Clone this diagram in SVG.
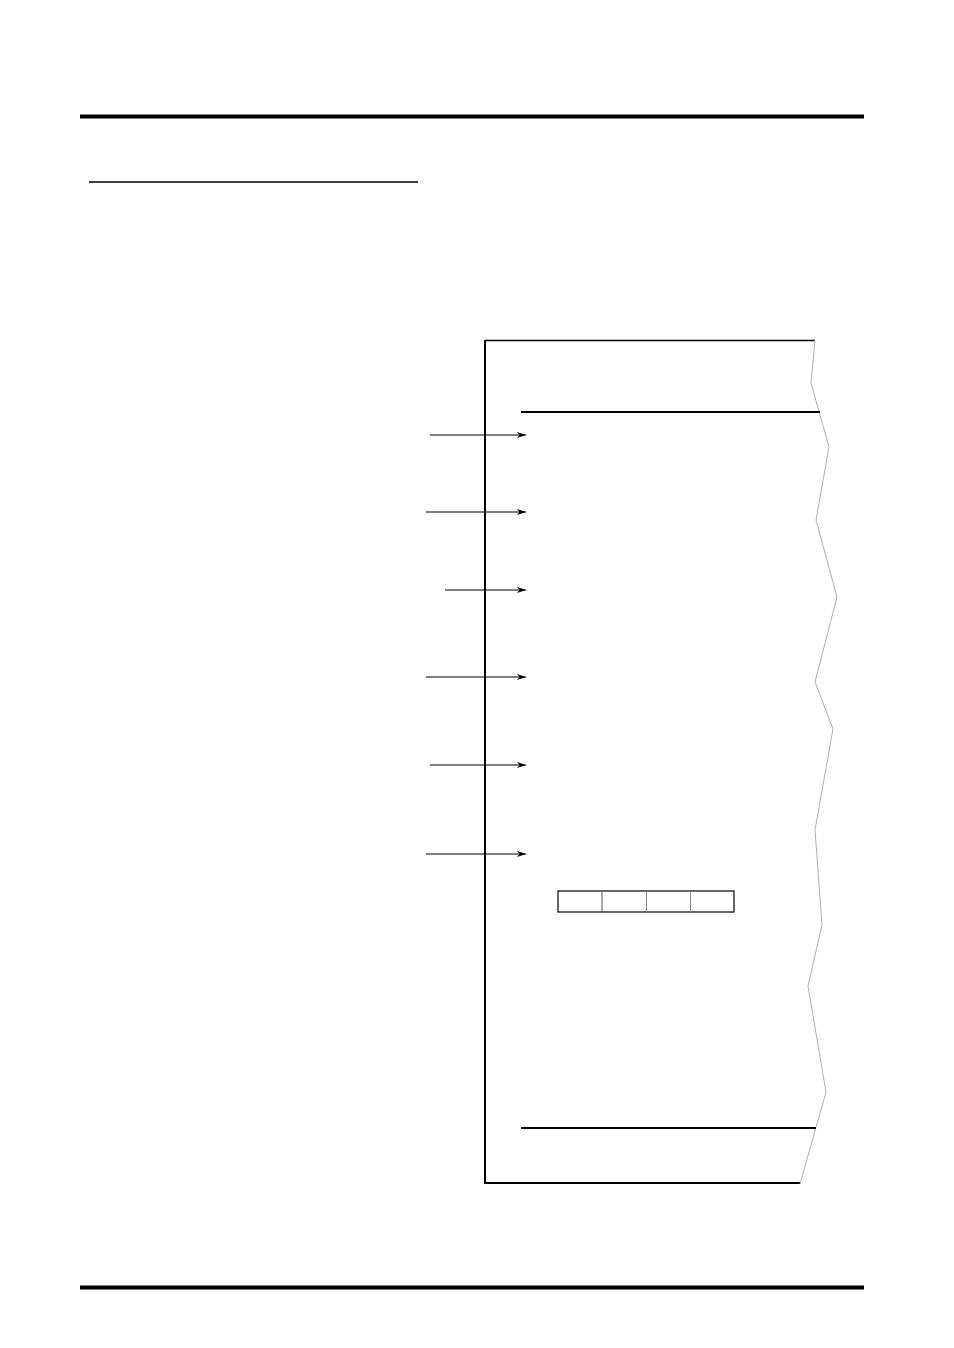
<svg xmlns="http://www.w3.org/2000/svg" width="954" height="1348" viewBox="0 0 954 1348">
<style>
.bar{stroke:#000;stroke-width:4;fill:none}
.ln{stroke:#000;fill:none}
.jag{stroke:#b0b0b0;stroke-width:1;fill:none}
.arr{stroke:#000;stroke-width:1.2;fill:none;marker-end:url(#ah)}
</style>
<defs>
<marker id="ah" markerWidth="10" markerHeight="6" refX="9" refY="3" orient="auto" markerUnits="userSpaceOnUse">
<path d="M0,0 L9,3 L0,6 L2.5,3 Z" fill="#000"/>
</marker>
</defs>
<rect width="954" height="1348" fill="#fff"/>
<g id="page">
<line class="bar" x1="80" y1="116.5" x2="864" y2="116.5"/>
<line class="bar" x1="80" y1="1287.5" x2="864" y2="1287.5"/>
<line class="ln" stroke-width="1.3" x1="89" y1="182" x2="418" y2="182"/>
</g>
<g id="frame">
<line class="ln" stroke-width="2" x1="485" y1="340" x2="485" y2="1184"/>
<line class="ln" stroke-width="1.3" x1="485" y1="340.5" x2="815" y2="340.5"/>
<line class="ln" stroke-width="2" x1="484" y1="1183" x2="800" y2="1183"/>
<polyline class="jag" points="815,340 811,383 829,447 816,520 837,597 815,682 833,729 815,830 822,925 808,986 826,1092 800,1184"/>
<line class="ln" stroke="#222" stroke-width="2" x1="521" y1="412" x2="820" y2="412"/>
<line class="ln" stroke-width="2" x1="521" y1="1128" x2="816" y2="1128"/>
</g>
<g id="table">
<rect x="558" y="891" width="176" height="21" fill="none" stroke="#000" stroke-width="1.2"/>
<line x1="602" y1="891" x2="602" y2="912" stroke="#555" stroke-width="1"/>
<line x1="646.5" y1="891" x2="646.5" y2="912" stroke="#888" stroke-width="1"/>
<line x1="690.5" y1="891" x2="690.5" y2="912" stroke="#888" stroke-width="1"/>
</g>
<g id="connectors">
<line class="arr" x1="430" y1="435" x2="526" y2="435"/>
<line class="arr" x1="426" y1="512" x2="526" y2="512"/>
<line class="arr" x1="445" y1="590" x2="526" y2="590"/>
<line class="arr" x1="426" y1="677" x2="526" y2="677"/>
<line class="arr" x1="430" y1="765" x2="526" y2="765"/>
<line class="arr" x1="426" y1="854" x2="526" y2="854"/>
</g>
</svg>
